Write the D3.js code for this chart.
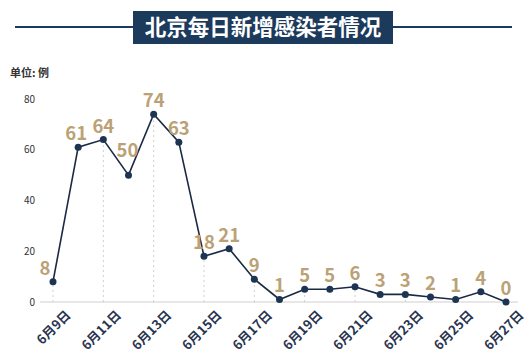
<!DOCTYPE html>
<html>
<head>
<meta charset="utf-8">
<script src="https://cdn.jsdelivr.net/npm/d3@7"></script>
<style>
  body { margin: 0; background: #fff; }
  svg text { font-family: "Noto Sans CJK SC", "Noto Sans", sans-serif; }
</style>
</head>
<body>
<div class="container"></div>
<script>
// data
var days = ["6月9日", "6月10日", "6月11日", "6月12日", "6月13日", "6月14日", "6月15日",
            "6月16日", "6月17日", "6月18日", "6月19日", "6月20日", "6月21日", "6月22日",
            "6月23日", "6月24日", "6月25日", "6月26日", "6月27日"];
var cases = [8, 61, 64, 50, 74, 63, 18, 21, 9, 1, 5, 5, 6, 3, 3, 2, 1, 4, 0];
var shownDays = ["6月9日", "6月11日", "6月13日", "6月15日", "6月17日", "6月19日",
                 "6月21日", "6月23日", "6月25日", "6月27日"];
var yTicks = [0, 20, 40, 60, 80];
var title = "北京每日新增感染者情况";
var unitLabel = "单位: 例";

var width = 532;
var height = 359;
var navy = "#1c3a5c";
var gold = "#bba276";

var svg = d3.select(".container")
    .append("svg")
    .attr("width", width)
    .attr("height", height);

// title banner with line behind it
svg.append("line")
    .attr("x1", 15).attr("x2", 512)
    .attr("y1", 27).attr("y2", 27)
    .attr("stroke", navy)
    .attr("stroke-width", 2);
svg.append("rect")
    .attr("x", 133).attr("y", 11)
    .attr("width", 260).attr("height", 33)
    .attr("fill", navy);
svg.append("text")
    .attr("x", 263).attr("y", 35)
    .attr("text-anchor", "middle")
    .attr("fill", "#fff")
    .attr("font-size", 21.5)
    .attr("font-weight", "bold")
    .text(title);

svg.append("text")
    .attr("x", 10).attr("y", 77)
    .attr("fill", "#333")
    .attr("font-size", 11)
    .attr("font-weight", "bold")
    .text(unitLabel);

var x = d3.scalePoint().domain(days).range([53, 506]);
var y = d3.scaleLinear().domain([0, 80]).range([302, 99]);

// y labels only, no axis line
var yAxis = svg.append("g")
    .attr("transform", "translate(35,0)")
    .call(d3.axisLeft(y).tickValues(yTicks).tickSize(0).tickPadding(0));
yAxis.select(".domain").remove();
yAxis.selectAll("text")
    .attr("font-size", 10)
    .attr("fill", "#333");

// baseline
svg.append("line")
    .attr("x1", 40).attr("x2", 518)
    .attr("y1", y(0)).attr("y2", y(0))
    .attr("stroke", "#cfcfcf")
    .attr("stroke-width", 1);

// x labels, rotated
var xAxis = svg.append("g")
    .attr("transform", "translate(0," + y(0) + ")")
    .call(d3.axisBottom(x).tickValues(shownDays).tickSize(0));
xAxis.select(".domain").remove();
xAxis.selectAll("text")
    .attr("font-size", 13)
    .attr("font-weight", "bold")
    .attr("fill", "#2a3550")
    .attr("text-anchor", "end")
    .attr("dy", null)
    .attr("y", 0)
    .attr("transform", "translate(18,14) rotate(-45)");

var points = days.map(function(d, i) { return { day: d, value: cases[i] }; });

// dashed drop lines on labelled days
svg.selectAll(".drop")
    .data(points.filter(function(p) { return shownDays.indexOf(p.day) >= 0; }))
    .enter()
    .append("line")
    .attr("class", "drop")
    .attr("x1", function(d) { return x(d.day); })
    .attr("x2", function(d) { return x(d.day); })
    .attr("y1", y(0))
    .attr("y2", function(d) { return y(d.value); })
    .attr("stroke", "#cfcfcf")
    .attr("stroke-dasharray", "2,3");

var line = d3.line()
    .x(function(d) { return x(d.day); })
    .y(function(d) { return y(d.value); });

svg.append("path")
    .datum(points)
    .attr("d", line)
    .attr("fill", "none")
    .attr("stroke", "#1b2944")
    .attr("stroke-width", 1.6);

svg.selectAll(".dot")
    .data(points)
    .enter()
    .append("circle")
    .attr("class", "dot")
    .attr("cx", function(d) { return x(d.day); })
    .attr("cy", function(d) { return y(d.value); })
    .attr("r", 3.5)
    .attr("fill", "#1d3553");

// value labels; a couple are nudged like in the original
var nudge = { "6月9日": [-8, 0], "6月12日": [-1, -11], "6月10日": [-2, 0] };
svg.selectAll(".val")
    .data(points)
    .enter()
    .append("text")
    .attr("class", "val")
    .attr("x", function(d) { return x(d.day) + (nudge[d.day] ? nudge[d.day][0] : 0); })
    .attr("y", function(d) { return y(d.value) - 7 + (nudge[d.day] ? nudge[d.day][1] : 0); })
    .attr("text-anchor", "middle")
    .attr("font-size", 18.5)
    .attr("font-weight", "bold")
    .attr("fill", gold)
    .text(function(d) { return d.value; });
</script>
</body>
</html>
